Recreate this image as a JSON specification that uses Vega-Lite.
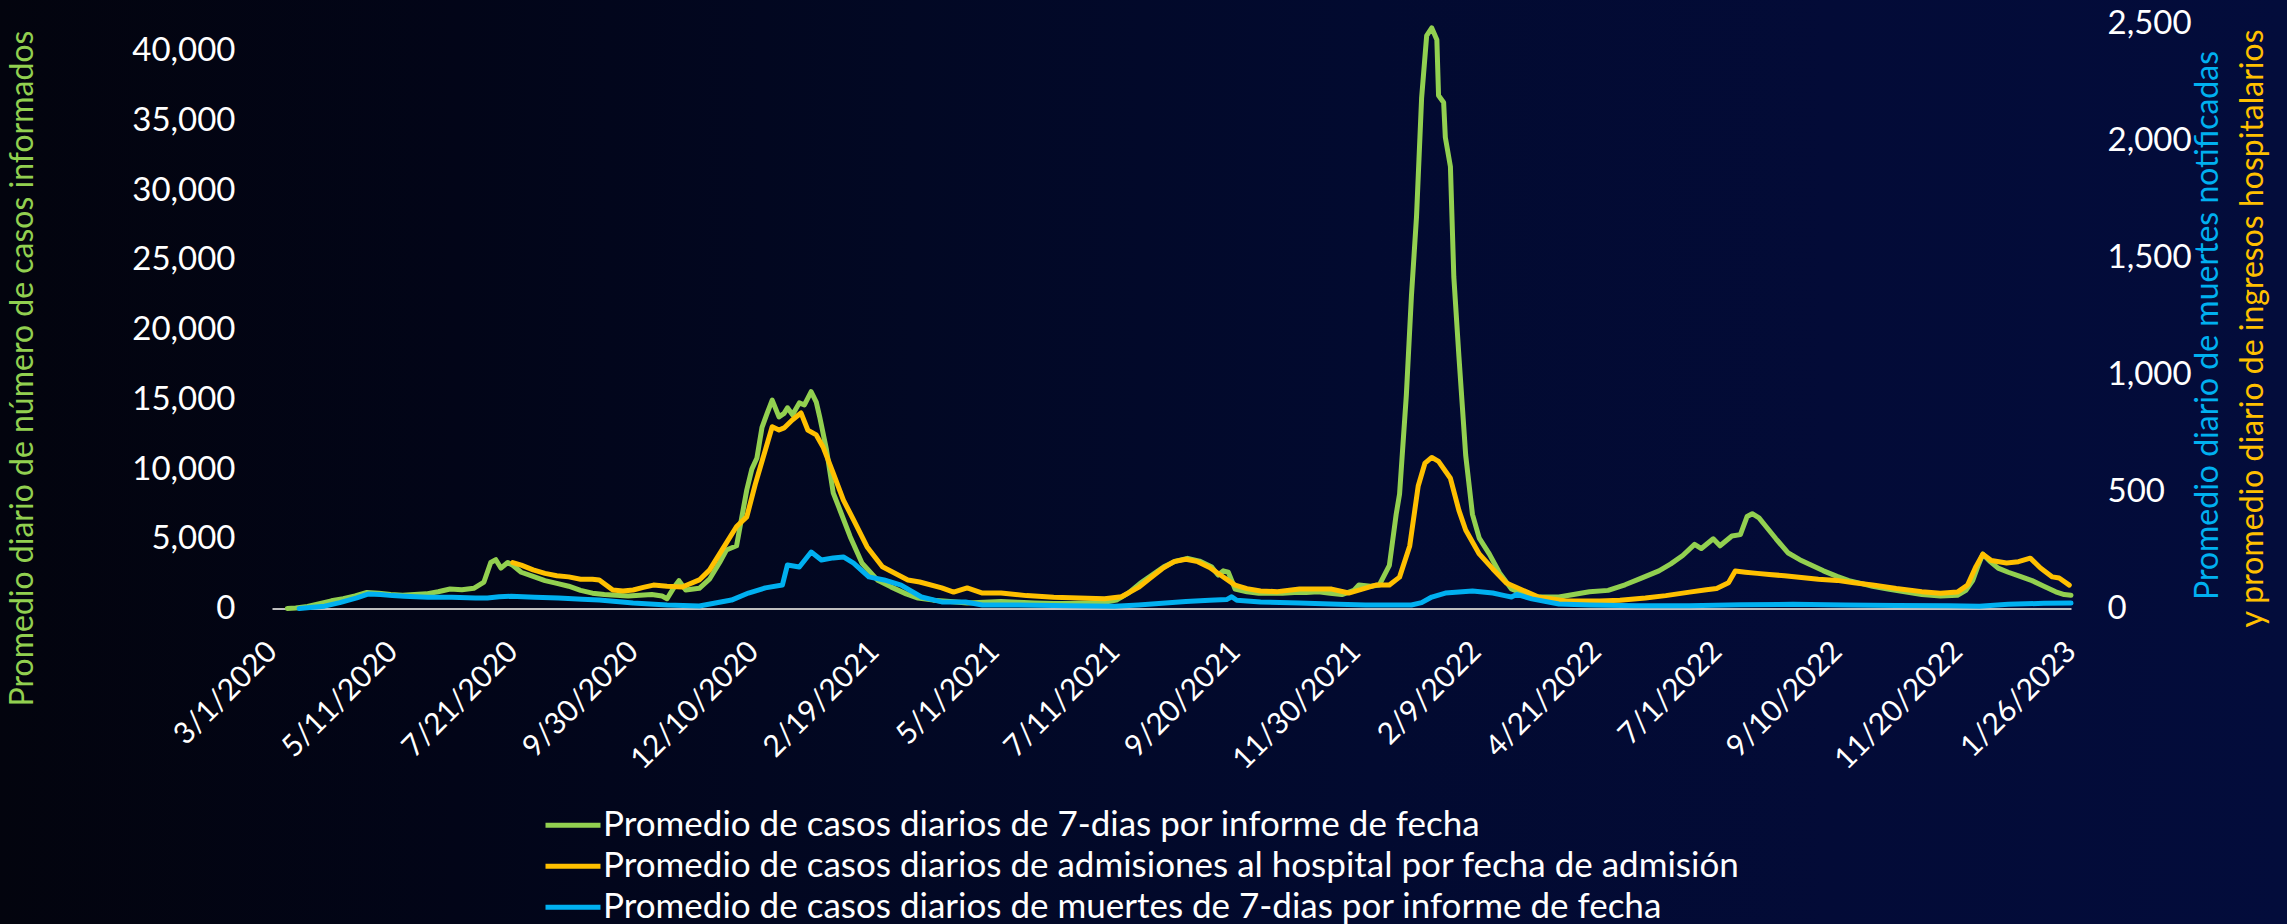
{
"$schema": "https://vega.github.io/schema/vega-lite/v6.json",
"width": 2287, "height": 924,
"autosize": {"type": "none"},
"padding": 0,
"background": "#020824",
"config": {
  "view": {"stroke": null, "fill": {"gradient": "linear", "x1": 0, "y1": 0, "x2": 1, "y2": 0, "stops": [
    {"offset": 0, "color": "#03040e"}, {"offset": 0.2, "color": "#020518"}, {"offset": 0.4, "color": "#020824"},
    {"offset": 0.6, "color": "#020a30"}, {"offset": 0.8, "color": "#030b37"}, {"offset": 1, "color": "#030c3b"}]}},
  "font": "Lato",
  "axis": {"grid": false, "ticks": false, "labelColor": "#ffffff", "labelFont": "Lato", "titleFont": "Lato", "titleFontWeight": "normal", "labelOverlap": false, "labelBound": false, "labelFlush": false}
},
"datasets": {
"casos": [
{"fecha":"2020-03-10","valor":0},{"fecha":"2020-03-15","valor":30},{"fecha":"2020-03-22","valor":150},{"fecha":"2020-03-29","valor":350},
{"fecha":"2020-04-05","valor":550},{"fecha":"2020-04-12","valor":700},{"fecha":"2020-04-19","valor":900},{"fecha":"2020-04-26","valor":1150},
{"fecha":"2020-05-03","valor":1100},{"fecha":"2020-05-10","valor":1000},{"fecha":"2020-05-17","valor":950},{"fecha":"2020-05-24","valor":1000},
{"fecha":"2020-05-31","valor":1050},{"fecha":"2020-06-07","valor":1200},{"fecha":"2020-06-14","valor":1400},{"fecha":"2020-06-21","valor":1350},
{"fecha":"2020-06-28","valor":1450},{"fecha":"2020-07-04","valor":1900},{"fecha":"2020-07-08","valor":3300},{"fecha":"2020-07-11","valor":3500},
{"fecha":"2020-07-14","valor":2900},{"fecha":"2020-07-18","valor":3300},{"fecha":"2020-07-21","valor":3100},{"fecha":"2020-07-26","valor":2600},
{"fecha":"2020-08-02","valor":2300},{"fecha":"2020-08-09","valor":2000},{"fecha":"2020-08-16","valor":1800},{"fecha":"2020-08-23","valor":1600},
{"fecha":"2020-08-30","valor":1300},{"fecha":"2020-09-06","valor":1100},{"fecha":"2020-09-13","valor":1000},{"fecha":"2020-09-20","valor":950},
{"fecha":"2020-09-27","valor":900},{"fecha":"2020-10-04","valor":950},{"fecha":"2020-10-11","valor":1000},{"fecha":"2020-10-17","valor":900},
{"fecha":"2020-10-20","valor":700},{"fecha":"2020-10-24","valor":1500},{"fecha":"2020-10-27","valor":2000},{"fecha":"2020-10-31","valor":1330},
{"fecha":"2020-11-08","valor":1450},{"fecha":"2020-11-14","valor":2100},{"fecha":"2020-11-20","valor":3300},{"fecha":"2020-11-24","valor":4200},
{"fecha":"2020-11-30","valor":4500},{"fecha":"2020-12-03","valor":6500},{"fecha":"2020-12-06","valor":8500},{"fecha":"2020-12-09","valor":10000},
{"fecha":"2020-12-12","valor":10800},{"fecha":"2020-12-15","valor":13000},{"fecha":"2020-12-18","valor":14000},{"fecha":"2020-12-21","valor":14950},
{"fecha":"2020-12-25","valor":13750},{"fecha":"2020-12-28","valor":14000},{"fecha":"2020-12-30","valor":14400},{"fecha":"2021-01-02","valor":13900},
{"fecha":"2021-01-06","valor":14750},{"fecha":"2021-01-09","valor":14600},{"fecha":"2021-01-13","valor":15550},{"fecha":"2021-01-16","valor":14800},
{"fecha":"2021-01-18","valor":13750},{"fecha":"2021-01-22","valor":11400},{"fecha":"2021-01-26","valor":8300},{"fecha":"2021-01-30","valor":7050},
{"fecha":"2021-02-05","valor":5150},{"fecha":"2021-02-12","valor":3250},{"fecha":"2021-02-21","valor":2050},{"fecha":"2021-03-01","valor":1550},
{"fecha":"2021-03-10","valor":1050},{"fecha":"2021-03-17","valor":750},{"fecha":"2021-03-26","valor":600},{"fecha":"2021-04-05","valor":500},
{"fecha":"2021-04-15","valor":400},{"fecha":"2021-04-25","valor":450},{"fecha":"2021-05-05","valor":500},{"fecha":"2021-05-15","valor":450},
{"fecha":"2021-05-25","valor":400},{"fecha":"2021-06-05","valor":350},{"fecha":"2021-06-15","valor":350},{"fecha":"2021-06-25","valor":400},
{"fecha":"2021-07-05","valor":450},{"fecha":"2021-07-12","valor":600},{"fecha":"2021-07-19","valor":1100},{"fecha":"2021-07-26","valor":1800},
{"fecha":"2021-08-02","valor":2400},{"fecha":"2021-08-09","valor":3000},{"fecha":"2021-08-16","valor":3400},{"fecha":"2021-08-23","valor":3600},
{"fecha":"2021-08-30","valor":3400},{"fecha":"2021-09-06","valor":3000},{"fecha":"2021-09-10","valor":2400},{"fecha":"2021-09-13","valor":2700},
{"fecha":"2021-09-16","valor":2600},{"fecha":"2021-09-20","valor":1400},{"fecha":"2021-09-27","valor":1200},{"fecha":"2021-10-04","valor":1100},
{"fecha":"2021-10-11","valor":1100},{"fecha":"2021-10-18","valor":1100},{"fecha":"2021-10-25","valor":1150},{"fecha":"2021-11-01","valor":1150},
{"fecha":"2021-11-08","valor":1200},{"fecha":"2021-11-15","valor":1100},{"fecha":"2021-11-22","valor":1000},{"fecha":"2021-11-29","valor":1300},
{"fecha":"2021-12-02","valor":1680},{"fecha":"2021-12-09","valor":1600},{"fecha":"2021-12-14","valor":1680},{"fecha":"2021-12-20","valor":3100},
{"fecha":"2021-12-24","valor":6750},{"fecha":"2021-12-26","valor":8200},{"fecha":"2021-12-30","valor":15300},{"fecha":"2022-01-02","valor":22400},
{"fecha":"2022-01-05","valor":28100},{"fecha":"2022-01-08","valor":36600},{"fecha":"2022-01-11","valor":41100},{"fecha":"2022-01-14","valor":41650},
{"fecha":"2022-01-17","valor":40800},{"fecha":"2022-01-18","valor":36800},{"fecha":"2022-01-21","valor":36300},{"fecha":"2022-01-22","valor":33800},
{"fecha":"2022-01-25","valor":31700},{"fecha":"2022-01-27","valor":23800},{"fecha":"2022-01-30","valor":18100},{"fecha":"2022-02-03","valor":11000},
{"fecha":"2022-02-07","valor":6750},{"fecha":"2022-02-11","valor":5050},{"fecha":"2022-02-17","valor":3900},{"fecha":"2022-02-23","valor":2550},
{"fecha":"2022-03-02","valor":1400},{"fecha":"2022-03-14","valor":820},{"fecha":"2022-03-30","valor":820},{"fecha":"2022-04-17","valor":1200},
{"fecha":"2022-04-28","valor":1300},{"fecha":"2022-05-08","valor":1700},{"fecha":"2022-05-18","valor":2200},{"fecha":"2022-05-28","valor":2700},
{"fecha":"2022-06-04","valor":3200},{"fecha":"2022-06-11","valor":3800},{"fecha":"2022-06-18","valor":4600},{"fecha":"2022-06-22","valor":4300},
{"fecha":"2022-06-29","valor":5000},{"fecha":"2022-07-03","valor":4500},{"fecha":"2022-07-10","valor":5200},{"fecha":"2022-07-15","valor":5300},
{"fecha":"2022-07-19","valor":6600},{"fecha":"2022-07-22","valor":6800},{"fecha":"2022-07-26","valor":6500},{"fecha":"2022-07-30","valor":5900},
{"fecha":"2022-08-05","valor":5000},{"fecha":"2022-08-12","valor":4000},{"fecha":"2022-08-19","valor":3500},{"fecha":"2022-08-26","valor":3100},
{"fecha":"2022-09-02","valor":2700},{"fecha":"2022-09-10","valor":2300},{"fecha":"2022-09-17","valor":2000},{"fecha":"2022-09-24","valor":1800},
{"fecha":"2022-10-01","valor":1600},{"fecha":"2022-10-10","valor":1400},{"fecha":"2022-10-20","valor":1200},{"fecha":"2022-10-30","valor":1000},
{"fecha":"2022-11-10","valor":900},{"fecha":"2022-11-20","valor":950},{"fecha":"2022-11-25","valor":1300},{"fecha":"2022-11-29","valor":2000},
{"fecha":"2022-12-02","valor":3000},{"fecha":"2022-12-05","valor":3900},{"fecha":"2022-12-09","valor":3400},{"fecha":"2022-12-14","valor":2900},
{"fecha":"2022-12-20","valor":2600},{"fecha":"2022-12-27","valor":2300},{"fecha":"2023-01-03","valor":2000},{"fecha":"2023-01-10","valor":1600},
{"fecha":"2023-01-17","valor":1200},{"fecha":"2023-01-22","valor":1000},{"fecha":"2023-01-26","valor":950}
],
"hosp": [
{"fecha":"2020-07-21","valor":196},{"fecha":"2020-07-26","valor":185},{"fecha":"2020-08-02","valor":165},{"fecha":"2020-08-09","valor":150},
{"fecha":"2020-08-16","valor":140},{"fecha":"2020-08-23","valor":135},{"fecha":"2020-08-30","valor":125},{"fecha":"2020-09-06","valor":125},
{"fecha":"2020-09-10","valor":122},{"fecha":"2020-09-18","valor":79},{"fecha":"2020-09-24","valor":75},{"fecha":"2020-09-30","valor":79},
{"fecha":"2020-10-06","valor":90},{"fecha":"2020-10-12","valor":100},{"fecha":"2020-10-20","valor":95},{"fecha":"2020-10-29","valor":92},
{"fecha":"2020-11-08","valor":122},{"fecha":"2020-11-14","valor":164},{"fecha":"2020-11-24","valor":280},{"fecha":"2020-11-30","valor":350},
{"fecha":"2020-12-06","valor":391},{"fecha":"2020-12-11","valor":530},{"fecha":"2020-12-14","valor":604},{"fecha":"2020-12-21","valor":776},
{"fecha":"2020-12-25","valor":762},{"fecha":"2020-12-28","valor":771},{"fecha":"2021-01-02","valor":806},{"fecha":"2021-01-07","valor":835},
{"fecha":"2021-01-11","valor":762},{"fecha":"2021-01-16","valor":741},{"fecha":"2021-01-20","valor":690},{"fecha":"2021-01-26","valor":578},
{"fecha":"2021-02-01","valor":463},{"fecha":"2021-02-07","valor":378},{"fecha":"2021-02-15","valor":263},{"fecha":"2021-02-24","valor":178},
{"fecha":"2021-03-11","valor":122},{"fecha":"2021-03-18","valor":113},{"fecha":"2021-03-31","valor":88},{"fecha":"2021-04-07","valor":70},
{"fecha":"2021-04-15","valor":88},{"fecha":"2021-04-24","valor":66},{"fecha":"2021-05-05","valor":66},{"fecha":"2021-05-20","valor":55},
{"fecha":"2021-06-05","valor":48},{"fecha":"2021-06-20","valor":45},{"fecha":"2021-07-05","valor":42},{"fecha":"2021-07-15","valor":50},
{"fecha":"2021-07-25","valor":90},{"fecha":"2021-08-01","valor":130},{"fecha":"2021-08-08","valor":170},{"fecha":"2021-08-15","valor":200},
{"fecha":"2021-08-22","valor":210},{"fecha":"2021-08-29","valor":200},{"fecha":"2021-09-05","valor":175},{"fecha":"2021-09-12","valor":140},
{"fecha":"2021-09-20","valor":100},{"fecha":"2021-09-27","valor":85},{"fecha":"2021-10-05","valor":75},{"fecha":"2021-10-15","valor":72},
{"fecha":"2021-10-28","valor":83},{"fecha":"2021-11-16","valor":83},{"fecha":"2021-11-26","valor":66},{"fecha":"2021-12-12","valor":100},
{"fecha":"2021-12-20","valor":100},{"fecha":"2021-12-26","valor":134},{"fecha":"2022-01-01","valor":267},{"fecha":"2022-01-06","valor":523},
{"fecha":"2022-01-10","valor":621},{"fecha":"2022-01-14","valor":645},{"fecha":"2022-01-18","valor":628},{"fecha":"2022-01-25","valor":556},
{"fecha":"2022-01-30","valor":419},{"fecha":"2022-02-03","valor":335},{"fecha":"2022-02-11","valor":233},{"fecha":"2022-02-19","valor":169},
{"fecha":"2022-02-27","valor":109},{"fecha":"2022-03-07","valor":83},{"fecha":"2022-03-18","valor":49},{"fecha":"2022-04-03","valor":32},
{"fecha":"2022-04-23","valor":32},{"fecha":"2022-05-05","valor":35},{"fecha":"2022-05-20","valor":45},{"fecha":"2022-06-01","valor":55},
{"fecha":"2022-06-15","valor":70},{"fecha":"2022-06-25","valor":80},{"fecha":"2022-07-01","valor":85},{"fecha":"2022-07-08","valor":110},
{"fecha":"2022-07-12","valor":160},{"fecha":"2022-07-18","valor":155},{"fecha":"2022-07-25","valor":150},{"fecha":"2022-08-01","valor":145},
{"fecha":"2022-08-10","valor":140},{"fecha":"2022-08-20","valor":132},{"fecha":"2022-08-30","valor":125},{"fecha":"2022-09-10","valor":120},
{"fecha":"2022-09-20","valor":110},{"fecha":"2022-10-01","valor":100},{"fecha":"2022-10-15","valor":85},{"fecha":"2022-10-30","valor":72},
{"fecha":"2022-11-10","valor":65},{"fecha":"2022-11-20","valor":70},{"fecha":"2022-11-26","valor":100},{"fecha":"2022-12-01","valor":180},
{"fecha":"2022-12-05","valor":232},{"fecha":"2022-12-10","valor":205},{"fecha":"2022-12-19","valor":194},{"fecha":"2022-12-26","valor":200},
{"fecha":"2023-01-02","valor":215},{"fecha":"2023-01-08","valor":173},{"fecha":"2023-01-15","valor":135},{"fecha":"2023-01-19","valor":130},
{"fecha":"2023-01-25","valor":100}
],
"muertes": [
{"fecha":"2020-03-17","valor":0},{"fecha":"2020-03-25","valor":5},{"fecha":"2020-04-01","valor":10},{"fecha":"2020-04-10","valor":25},
{"fecha":"2020-04-20","valor":45},{"fecha":"2020-04-27","valor":62},{"fecha":"2020-05-04","valor":60},{"fecha":"2020-05-11","valor":55},
{"fecha":"2020-05-18","valor":52},{"fecha":"2020-05-25","valor":50},{"fecha":"2020-06-01","valor":48},{"fecha":"2020-06-15","valor":48},
{"fecha":"2020-06-29","valor":45},{"fecha":"2020-07-06","valor":45},{"fecha":"2020-07-13","valor":50},{"fecha":"2020-07-20","valor":52},
{"fecha":"2020-07-27","valor":50},{"fecha":"2020-08-03","valor":48},{"fecha":"2020-08-17","valor":45},{"fecha":"2020-08-31","valor":40},
{"fecha":"2020-09-10","valor":36},{"fecha":"2020-09-30","valor":23},{"fecha":"2020-10-20","valor":15},{"fecha":"2020-11-08","valor":11},
{"fecha":"2020-11-27","valor":36},{"fecha":"2020-12-07","valor":66},{"fecha":"2020-12-17","valor":88},{"fecha":"2020-12-27","valor":100},
{"fecha":"2020-12-30","valor":186},{"fecha":"2021-01-06","valor":177},{"fecha":"2021-01-13","valor":241},{"fecha":"2021-01-19","valor":207},
{"fecha":"2021-01-26","valor":216},{"fecha":"2021-02-01","valor":220},{"fecha":"2021-02-07","valor":194},{"fecha":"2021-02-16","valor":135},
{"fecha":"2021-02-25","valor":122},{"fecha":"2021-03-07","valor":100},{"fecha":"2021-03-19","valor":49},{"fecha":"2021-03-31","valor":28},
{"fecha":"2021-04-14","valor":28},{"fecha":"2021-04-24","valor":15},{"fecha":"2021-05-15","valor":15},{"fecha":"2021-06-15","valor":12},
{"fecha":"2021-07-11","valor":10},{"fecha":"2021-07-25","valor":15},{"fecha":"2021-08-08","valor":22},{"fecha":"2021-08-22","valor":30},
{"fecha":"2021-09-05","valor":35},{"fecha":"2021-09-15","valor":38},{"fecha":"2021-09-18","valor":50},{"fecha":"2021-09-21","valor":35},
{"fecha":"2021-10-05","valor":28},{"fecha":"2021-10-28","valor":23},{"fecha":"2021-11-20","valor":18},{"fecha":"2021-12-06","valor":15},
{"fecha":"2022-01-02","valor":15},{"fecha":"2022-01-08","valor":25},{"fecha":"2022-01-14","valor":49},{"fecha":"2022-01-22","valor":66},
{"fecha":"2022-02-07","valor":75},{"fecha":"2022-02-19","valor":66},{"fecha":"2022-02-26","valor":55},{"fecha":"2022-03-02","valor":49},
{"fecha":"2022-03-05","valor":60},{"fecha":"2022-03-14","valor":41},{"fecha":"2022-03-30","valor":19},{"fecha":"2022-04-17","valor":15},
{"fecha":"2022-05-15","valor":12},{"fecha":"2022-06-15","valor":12},{"fecha":"2022-07-15","valor":16},{"fecha":"2022-08-15","valor":18},
{"fecha":"2022-09-15","valor":15},{"fecha":"2022-10-15","valor":13},{"fecha":"2022-11-15","valor":12},{"fecha":"2022-12-03","valor":10},
{"fecha":"2022-12-20","valor":18},{"fecha":"2023-01-10","valor":22},{"fecha":"2023-01-26","valor":23}
]
},
"encoding": {
  "x": {"field": "fecha", "type": "temporal",
    "scale": {"type": "utc", "domain": [{"year": 2020, "month": 3, "date": 1, "utc": true}, {"year": 2023, "month": 1, "date": 26, "utc": true}], "range": [272, 2071]},
    "axis": {"orient": "bottom", "offset": -315.5, "title": null,
      "values": [
        {"year": 2020, "month": 3, "date": 1, "utc": true}, {"year": 2020, "month": 5, "date": 11, "utc": true},
        {"year": 2020, "month": 7, "date": 21, "utc": true}, {"year": 2020, "month": 9, "date": 30, "utc": true},
        {"year": 2020, "month": 12, "date": 10, "utc": true}, {"year": 2021, "month": 2, "date": 19, "utc": true},
        {"year": 2021, "month": 5, "date": 1, "utc": true}, {"year": 2021, "month": 7, "date": 11, "utc": true},
        {"year": 2021, "month": 9, "date": 20, "utc": true}, {"year": 2021, "month": 11, "date": 30, "utc": true},
        {"year": 2022, "month": 2, "date": 9, "utc": true}, {"year": 2022, "month": 4, "date": 21, "utc": true},
        {"year": 2022, "month": 7, "date": 1, "utc": true}, {"year": 2022, "month": 9, "date": 10, "utc": true},
        {"year": 2022, "month": 11, "date": 20, "utc": true}, {"year": 2023, "month": 1, "date": 26, "utc": true}],
      "labelExpr": "utcFormat(datum.value, '%-m/%-d/%Y')",
      "labelAngle": -45, "labelAlign": "right", "labelBaseline": "middle", "labelPadding": 38,
      "labelFontSize": 30, "labelColor": "#ffffff",
      "domain": true, "domainColor": "#bfbfbf", "domainWidth": 2, "ticks": false, "grid": false}}
},
"layer": [
  {"data": {"name": "casos"},
   "mark": {"type": "line", "strokeWidth": 5, "strokeCap": "round", "strokeJoin": "round"},
   "encoding": {
     "y": {"field": "valor", "type": "quantitative",
       "scale": {"domain": [0, 42000], "range": [608.5, 23], "nice": false, "zero": true},
       "axis": {"orient": "left", "offset": -272, "values": [0,5000,10000,15000,20000,25000,30000,35000,40000], "format": ",.0f",
         "labelFontSize": 33, "labelPadding": 37, "labelColor": "#ffffff", "domain": false, "ticks": false, "grid": false,
         "title": "Promedio diario de número de casos informados", "titleColor": "#92d050", "titleFontSize": 32,
         "titleAngle": -90, "titleX": -250, "titleY": 368, "titleAlign": "center", "titleBaseline": "middle"}},
     "color": {"datum": "Promedio de casos diarios de 7-dias por informe de fecha", "type": "nominal",
       "scale": {"domain": ["Promedio de casos diarios de 7-dias por informe de fecha", "Promedio de casos diarios de admisiones al hospital por fecha de admisión", "Promedio de casos diarios de muertes de 7-dias por informe de fecha"],
                 "range": ["#92d050", "#ffc000", "#00b0f0"]},
       "legend": {"orient": "none", "legendX": 543, "legendY": 805, "title": null, "direction": "vertical",
         "symbolType": "stroke", "symbolStrokeWidth": 5, "symbolSize": 3025, "labelFontSize": 35, "labelColor": "#ffffff",
         "labelFont": "Lato", "labelOffset": 0, "labelLimit": 0, "rowPadding": 0, "clipHeight": 40.5}}
   }},
  {"layer": [
    {"data": {"name": "hosp"},
     "mark": {"type": "line", "strokeWidth": 5, "strokeCap": "round", "strokeJoin": "round"},
     "encoding": {
       "y": {"field": "valor", "type": "quantitative",
         "scale": {"domain": [0, 2500], "range": [608.5, 23], "nice": false, "zero": true},
         "axis": {"orient": "right", "offset": -216, "values": [0,500,1000,1500,2000,2500], "format": ",.0f",
           "labelFontSize": 33, "labelPadding": 36, "labelColor": "#ffffff", "domain": false, "ticks": false, "grid": false,
           "title": "y promedio diario de ingresos hospitalarios", "titleColor": "#ffc000", "titleFontSize": 32,
           "titleAngle": -90, "titleX": 181, "titleY": 328, "titleAlign": "center", "titleBaseline": "middle"}},
       "color": {"datum": "Promedio de casos diarios de admisiones al hospital por fecha de admisión", "type": "nominal"}
     }},
    {"data": {"name": "muertes"},
     "mark": {"type": "line", "strokeWidth": 5, "strokeCap": "round", "strokeJoin": "round"},
     "encoding": {
       "y": {"field": "valor", "type": "quantitative",
         "axis": {"orient": "right", "offset": -216, "labels": false, "domain": false, "ticks": false, "grid": false,
           "title": "Promedio diario de muertes notificadas", "titleColor": "#00b0f0", "titleFontSize": 32,
           "titleAngle": -90, "titleX": 136, "titleY": 325, "titleAlign": "center", "titleBaseline": "middle"}},
       "color": {"datum": "Promedio de casos diarios de muertes de 7-dias por informe de fecha", "type": "nominal"}
     }}
   ],
   "resolve": {"axis": {"y": "independent"}}}
],
"resolve": {"scale": {"y": "independent"}}
}
